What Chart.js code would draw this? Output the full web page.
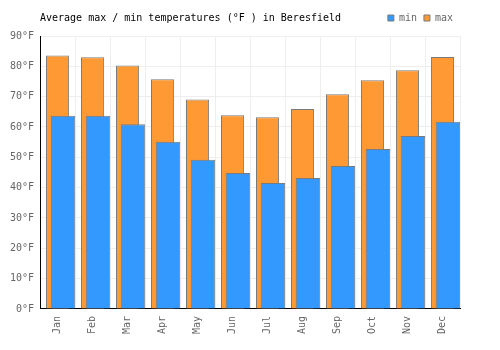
<!DOCTYPE html>
<html>
<head>
<meta charset="utf-8">
<script src="https://cdn.jsdelivr.net/npm/chart.js@4"></script>
<style>
  html, body { margin: 0; padding: 0; background: #fff; }
  #wrap { position: relative; width: 500px; height: 350px; }
  #title { position: absolute; left: 40px; top: 12px; font: 10px/12px "DejaVu Sans Mono", monospace; color: #000; white-space: pre; }
</style>
</head>
<body>
<div id="wrap">
  <canvas id="c" width="500" height="350"></canvas>
  <div id="title">Average max / min temperatures (°F ) in Beresfield</div>
</div>
<script>
  // 資料：每月平均最高/最低氣溫 (°F)
  var months = ['Jan', 'Feb', 'Mar', 'Apr', 'May', 'Jun', 'Jul', 'Aug', 'Sep', 'Oct', 'Nov', 'Dec'];
  var minTemps = [63.7, 63.7, 60.9, 55.1, 49.2, 44.8, 41.5, 43.2, 47.1, 52.7, 57.0, 61.7];
  var maxTemps = [83.6, 83.0, 80.3, 75.7, 69.1, 63.9, 63.2, 65.9, 70.8, 75.4, 78.7, 83.1];
  var yTicks = [0, 10, 20, 30, 40, 50, 60, 70, 80, 90];

  var FONT = { family: '"DejaVu Sans Mono", monospace', size: 10 };
  var SHIFT = 0.155; // min 柱往右偏一點（疊在 max 前面）

  /* 圖例下方多留一點空間 */
  var legendGap = {
    id: 'legendGap',
    beforeInit: function (chart) {
      var fit = chart.legend.fit;
      chart.legend.fit = function () { fit.call(this); this.height += 3; };
    },
  };

  new Chart(document.getElementById('c').getContext('2d'), {
    type: 'bar',
    plugins: [legendGap],
    data: {
      labels: months,
      datasets: [
        {
          label: 'min', xAxisID: 'x2',
          data: minTemps.map(function (v, i) { return { x: i, y: v }; }),
          backgroundColor: '#3399ff', borderColor: '#7a7a7a', borderWidth: 1,
          categoryPercentage: 1, barPercentage: 0.7, grouped: false,
        },
        {
          label: 'max', xAxisID: 'x',
          data: maxTemps,
          backgroundColor: '#ff9933', borderColor: '#7a7a7a', borderWidth: 1,
          categoryPercentage: 1, barPercentage: 0.66, grouped: false,
        },
      ],
    },
    options: {
      responsive: false, animation: false,
      layout: { padding: { top: 6, right: 40, left: 4, bottom: 9 } },
      plugins: {
        title: { display: false },
        tooltip: { enabled: false },
        legend: {
          position: 'top', align: 'end',
          labels: { font: FONT, color: '#666', boxWidth: 6, boxHeight: 6, padding: 7 },
        },
      },
      scales: {
        x: {
          type: 'category', offset: true,
          grid: { color: '#eeeeee', drawTicks: false, offset: true },
          border: { color: '#000', width: 1 },
          ticks: { font: FONT, color: '#666', minRotation: 90, maxRotation: 90, padding: 7 },
        },
        x2: {
          type: 'linear', display: false, offset: false,
          min: -0.5 - SHIFT, max: 11.5 - SHIFT,
        },
        y: {
          min: 0, max: 90,
          afterBuildTicks: function (axis) { axis.ticks = yTicks.map(function (v) { return { value: v }; }); },
          grid: { color: '#eeeeee', drawTicks: false },
          border: { color: '#000', width: 1 },
          ticks: { font: FONT, color: '#666', padding: 6, callback: function (v) { return v + '°F'; } },
        },
      },
    },
  });
</script>
</body>
</html>
